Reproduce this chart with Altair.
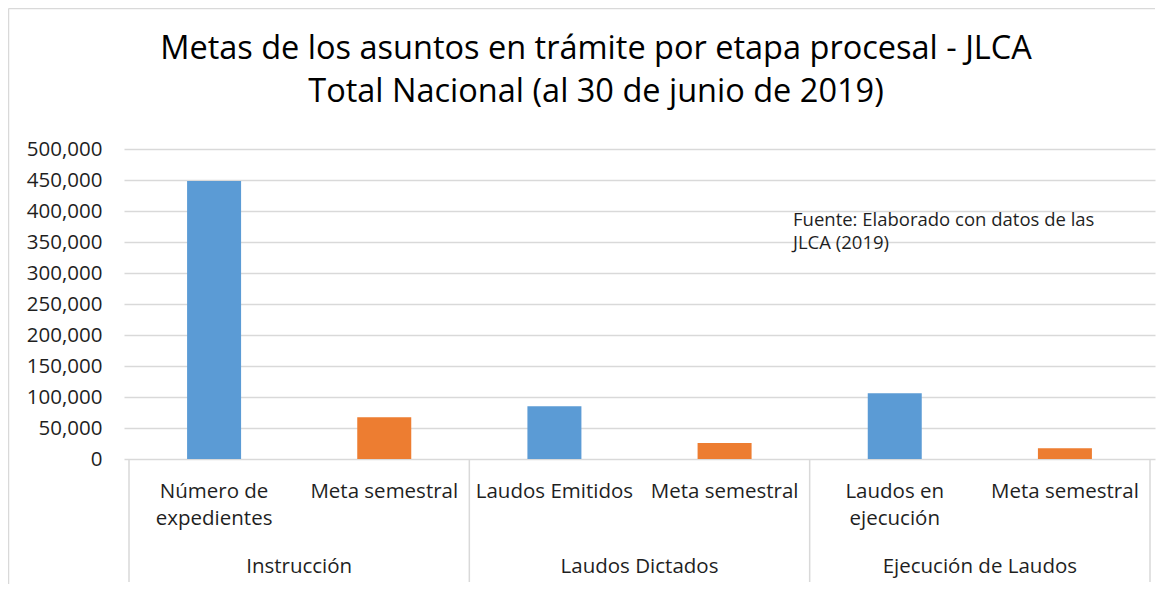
import altair as alt
import pandas as pd

# ---- data ----
groups = ["Instrucción", "Instrucción", "Laudos Dictados", "Laudos Dictados",
          "Ejecución de Laudos", "Ejecución de Laudos"]
subcats = ["Número de\nexpedientes", "Meta semestral", "Laudos Emitidos",
           "Meta semestral", "Laudos en\nejecución", "Meta semestral"]
series = ["Asuntos", "Meta", "Asuntos", "Meta", "Asuntos", "Meta"]
values = [448500, 67500, 85000, 26000, 106000, 17500]
y_ticks = [0, 50000, 100000, 150000, 200000, 250000, 300000, 350000, 400000, 450000, 500000]
title_text = ("Metas de los asuntos en trámite por etapa procesal - JLCA\n"
              "Total Nacional (al 30 de junio de 2019)")
source_note = "Fuente: Elaborado con datos de las\nJLCA (2019)"

FONT = "Open Sans"
W, H = 1031, 310
TXT = "#1f1f1f"
GRID = "#d9d9d9"
FS = 20.5

df = pd.DataFrame({"pos": list(range(len(values))), "group": groups, "sub": subcats,
                   "series": series, "value": values})
g = df.groupby("group", sort=False)["pos"].agg(["min", "max"]).reset_index()
g["center"] = (g["min"] + g["max"]) / 2
sep_df = pd.DataFrame({"sep": [df["pos"].min() - 0.5] + list(g["max"] + 0.5)})
note_df = pd.DataFrame({"note": [source_note]})
title_df = pd.DataFrame({"t": [title_text]})
one = pd.DataFrame({"a": [0]})

xscale = alt.Scale(domain=[-0.5, 5.5], nice=False, zero=False)

bars = alt.Chart(df).mark_bar(size=54).encode(
    x=alt.X("pos:Q", scale=xscale, axis=None),
    y=alt.Y("value:Q", scale=alt.Scale(domain=[0, 500000], nice=False),
            axis=alt.Axis(values=y_ticks, format=",.0f", title=None, ticks=False, domain=False,
                          grid=True, gridColor=GRID, gridWidth=1.3, labelFont=FONT,
                          labelFontSize=FS, labelColor=TXT, labelPadding=22)),
    color=alt.Color("series:N", scale=alt.Scale(domain=["Asuntos", "Meta"],
                                                range=["#5B9BD5", "#ED7D31"]), legend=None),
)

sub_labels = alt.Chart(df).mark_text(lineBreak="\n", baseline="alphabetic", font=FONT,
                                     fontSize=FS, lineHeight=27, color=TXT).encode(
    x=alt.X("pos:Q", scale=xscale, axis=None),
    y=alt.value(H + 39),
    text="sub:N",
)

group_labels = alt.Chart(g).mark_text(baseline="alphabetic", font=FONT, fontSize=FS,
                                      color=TXT).encode(
    x=alt.X("center:Q", scale=xscale, axis=None),
    y=alt.value(H + 114),
    text="group:N",
)

seps = alt.Chart(sep_df).mark_rule(color=GRID, strokeWidth=1.5).encode(
    x=alt.X("sep:Q", scale=xscale, axis=None),
    y=alt.value(H),
    y2=alt.value(H + 123),
)

note = alt.Chart(note_df).mark_text(lineBreak="\n", align="left", baseline="alphabetic",
                                    font=FONT, fontSize=18.5, lineHeight=23, color=TXT).encode(
    x=alt.value(669),
    y=alt.value(77),
    text="note:N",
)

title = alt.Chart(title_df).mark_text(lineBreak="\n", align="center", baseline="alphabetic",
                                      font=FONT, fontSize=32.5, lineHeight=43,
                                      color="#000000").encode(
    x=alt.value(472),
    y=alt.value(-90),
    text="t:N",
)

border_left = alt.Chart(one).mark_rule(color=GRID, strokeWidth=1.5).encode(
    x=alt.value(-115.5), y=alt.value(-140.5), y2=alt.value(H + 125))
border_top = alt.Chart(one).mark_rule(color=GRID, strokeWidth=1.5).encode(
    x=alt.value(-115.5), x2=alt.value(W), y=alt.value(-140.5))

chart = alt.layer(border_left, border_top, bars, seps, sub_labels, group_labels, note,
                  title).properties(
    width=W, height=H,
    autosize=alt.AutoSizeParams(type="none"),
    padding={"left": 116, "top": 141, "right": 13, "bottom": 125},
    background="white",
).configure_view(stroke=None)

chart.save("out.html", embed_options={"renderer": "svg", "actions": False})
